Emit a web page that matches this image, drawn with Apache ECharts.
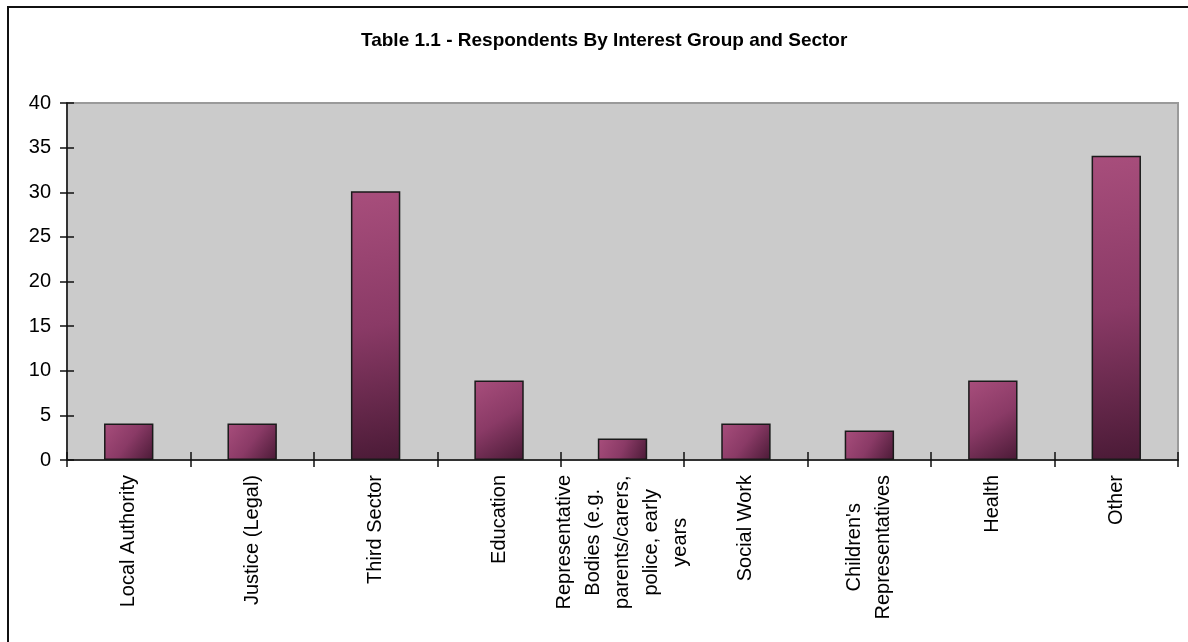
<!DOCTYPE html>
<html>
<head>
<meta charset="utf-8">
<script src="https://cdn.jsdelivr.net/npm/echarts@6/dist/echarts.min.js"></script>
<style>
  html, body { margin: 0; padding: 0; background: #fff; }
  #chart { width: 1188px; height: 642px; }
</style>
</head>
<body>
<div id="chart"></div>
<script>
const categories = [
  'Local Authority',
  'Justice (Legal)',
  'Third Sector',
  'Education',
  'Representative\nBodies (e.g.\nparents/carers,\npolice, early\nyears',
  'Social Work',
  "Children's\nRepresentatives",
  'Health',
  'Other'
]
const values = [4.1, 4.1, 30.1, 8.9, 2.4, 4.1, 3.3, 8.9, 34.1]
const yTicks = { min: 0, max: 40, interval: 5 }

const font = '"Liberation Sans", Arial, sans-serif'
const chart = echarts.init(document.getElementById('chart'))

// each label line is its own rich token so lines centre against the longest one
const labelFormatter = (value) =>
  value.split('\n').map(line => '{c|' + line + '}').join('\n')

const option = {
  animation: false,
  backgroundColor: '#fff',
  title: {
    text: 'Table 1.1 - Respondents By Interest Group and Sector',
    left: 356,
    top: 26,
    textStyle: { fontFamily: font, fontSize: 19, fontWeight: 'bold', color: '#000' }
  },
  graphic: [{
    type: 'rect',
    shape: { x: 8, y: 7, width: 1200, height: 700 },
    style: { fill: 'none', stroke: '#111', lineWidth: 2 },
    silent: true,
    z: 100
  }],
  grid: {
    left: 67,
    right: 10,
    top: 103,
    bottom: 182,
    show: true,
    backgroundColor: '#cbcbcb',
    borderColor: '#9a9a9a',
    borderWidth: 2
  },
  xAxis: [{
    type: 'category',
    data: categories,
    position: 'bottom',
    axisLine: { lineStyle: { color: '#111', width: 1.5 } },
    axisTick: { show: true, length: 7, alignWithLabel: false, lineStyle: { color: '#111', width: 1.5 } },
    axisLabel: {
      interval: 0,
      rotate: 90,
      margin: 15,
      fontFamily: font,
      fontSize: 20,
      color: '#000',
      formatter: labelFormatter,
      rich: {
        c: { align: 'center', fontFamily: font, fontSize: 20, lineHeight: 29, color: '#000' }
      }
    }
  }, {
    type: 'category',
    data: categories,
    position: 'bottom',
    axisLine: { show: false },
    axisTick: { show: true, inside: true, length: 8, lineStyle: { color: '#111', width: 1.5 } },
    axisLabel: { show: false }
  }],
  yAxis: [{
    type: 'value',
    min: yTicks.min,
    max: yTicks.max,
    interval: yTicks.interval,
    axisLine: { show: true, lineStyle: { color: '#111', width: 1.5 } },
    axisTick: { show: true, length: 7, lineStyle: { color: '#111', width: 1.5 } },
    splitLine: { show: false },
    axisLabel: { margin: 16, fontFamily: font, fontSize: 20, color: '#000' }
  }, {
    type: 'value',
    position: 'left',
    min: yTicks.min,
    max: yTicks.max,
    interval: yTicks.interval,
    axisLine: { show: false },
    axisTick: { show: true, inside: true, length: 7, lineStyle: { color: '#111', width: 1.5 } },
    splitLine: { show: false },
    axisLabel: { show: false }
  }],
  series: [{
    type: 'bar',
    data: values,
    barWidth: '40%',
    itemStyle: {
      color: new echarts.graphic.LinearGradient(0, 0, 1, 1, [
        { offset: 0, color: '#a84e7c' },
        { offset: 0.5, color: '#8a3a66' },
        { offset: 1, color: '#4a1a36' }
      ]),
      borderColor: '#1a1a1a',
      borderWidth: 1.5
    }
  }]
}

chart.setOption(option)
</script>
</body>
</html>
